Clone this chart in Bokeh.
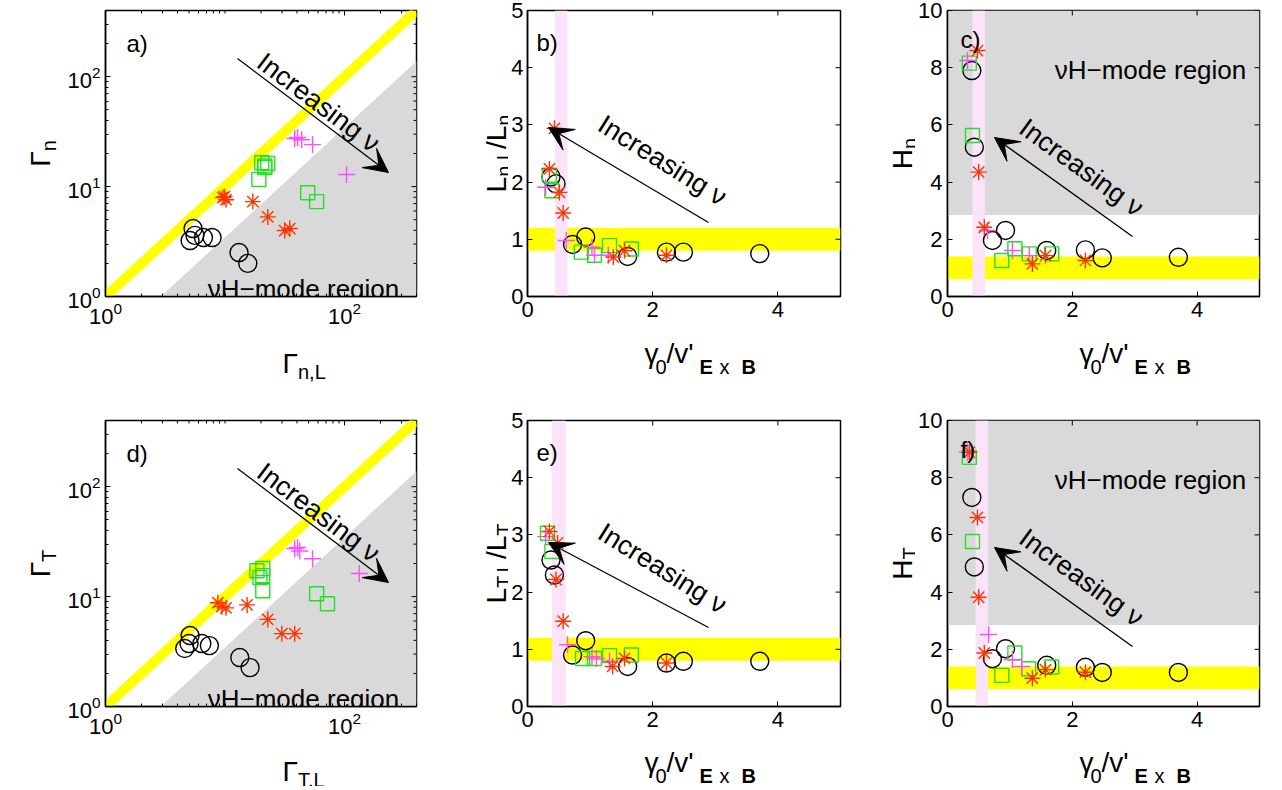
import math
from bokeh.plotting import figure
from bokeh.models import Label, Arrow, VeeHead, FixedTicker, Range1d
from bokeh.layouts import column, row
from bokeh.embed import file_html
from bokeh.resources import INLINE

# ---------------- data ----------------
# a) Gamma_n,L (x) vs Gamma_n (y)
a_circ_x = [5.4, 5.6, 5.1, 6.6, 7.8, 13.1, 15.5]
a_circ_y = [4.15, 3.6, 3.23, 3.44, 3.44, 2.51, 2.0]
a_grn_x = [20.3, 22.8, 21.5, 21.5, 19.2, 49.2, 58.4]
a_grn_y = [16.5, 16.2, 14.9, 15.4, 11.6, 8.8, 7.3]
a_mag_x = [38.3, 40.5, 43.8, 54.0, 104.0]
a_mag_y = [27.3, 28.0, 26.7, 24.1, 12.9]
a_red_x = [9.6, 10.2, 9.9, 17.1, 22.8, 31.6, 34.8]
a_red_y = [7.94, 7.6, 8.1, 7.3, 5.3, 3.98, 4.15]

# d) Gamma_T,L (x) vs Gamma_T (y)
d_circ_x = [5.1, 4.6, 5.0, 6.4, 7.4, 13.3, 16.2]
d_circ_y = [4.42, 3.37, 3.74, 3.74, 3.58, 2.79, 2.26]
d_grn_x = [18.5, 20.7, 19.6, 20.7, 20.7, 58.4, 72.0]
d_grn_y = [17.2, 18.0, 14.9, 15.5, 11.3, 10.6, 8.6]
d_mag_x = [38.3, 40.5, 42.2, 54.0, 133.0]
d_mag_y = [27.3, 28.0, 26.0, 22.1, 16.2]
d_red_x = [8.7, 9.4, 10.2, 15.3, 22.8, 29.9, 38.3]
d_red_y = [8.8, 8.1, 7.9, 8.4, 6.2, 4.6, 4.6]

# b) gamma0/v'ExB vs L_n,L/L_n
b_circ_x = [0.375, 0.455, 0.72, 0.93, 1.60, 2.22, 2.49, 3.71]
b_circ_y = [2.09, 1.97, 0.91, 1.04, 0.70, 0.775, 0.775, 0.75]
b_grn_x = [0.35, 0.39, 0.86, 1.07, 1.31, 1.66]
b_grn_y = [2.12, 1.85, 0.775, 0.72, 0.89, 0.83]
b_mag_x = [0.29, 0.62, 1.03, 1.07, 1.29]
b_mag_y = [1.91, 0.98, 0.86, 0.72, 0.72]
b_red_x = [0.35, 0.43, 0.51, 0.57, 1.37, 1.55, 2.22]
b_red_y = [2.23, 2.94, 1.82, 1.46, 0.69, 0.80, 0.72]

# e) gamma0/v'ExB vs L_T,L/L_T
e_circ_x = [0.375, 0.43, 0.72, 0.93, 1.60, 2.22, 2.49, 3.71]
e_circ_y = [2.56, 2.30, 0.90, 1.15, 0.70, 0.76, 0.79, 0.79]
e_grn_x = [0.32, 0.39, 0.88, 1.07, 1.31, 1.66]
e_grn_y = [3.03, 2.71, 0.84, 0.84, 0.89, 0.90]
e_mag_x = [0.29, 0.64, 1.03, 1.10, 1.31]
e_mag_y = [2.97, 1.08, 0.87, 0.84, 0.79]
e_red_x = [0.35, 0.48, 0.455, 0.57, 1.36, 1.55, 2.22]
e_red_y = [3.06, 2.86, 2.22, 1.49, 0.70, 0.84, 0.76]

# c) gamma0/v'ExB vs H_n
c_circ_x = [0.39, 0.43, 0.72, 0.93, 1.59, 2.21, 2.48, 3.70]
c_circ_y = [7.9, 5.22, 1.96, 2.31, 1.61, 1.63, 1.35, 1.37]
c_grn_x = [0.35, 0.40, 0.87, 1.08, 1.31, 1.67]
c_grn_y = [8.16, 5.63, 1.26, 1.67, 1.49, 1.49]
c_mag_x = [0.32, 0.64, 1.04, 1.31]
c_mag_y = [8.25, 2.31, 1.61, 1.43]
c_red_x = [0.48, 0.50, 0.59, 1.36, 1.57, 2.21]
c_red_y = [8.6, 4.35, 2.42, 1.14, 1.43, 1.26]

# f) gamma0/v'ExB vs H_T
f_circ_x = [0.39, 0.43, 0.72, 0.93, 1.59, 2.21, 2.48, 3.70]
f_circ_y = [7.31, 4.88, 1.67, 2.02, 1.44, 1.37, 1.19, 1.19]
f_grn_x = [0.35, 0.40, 0.87, 1.08, 1.30, 1.67]
f_grn_y = [8.71, 5.77, 1.09, 1.87, 1.32, 1.38]
f_mag_x = [0.32, 0.66, 1.04, 1.19]
f_mag_y = [8.89, 2.52, 1.64, 1.40]
f_red_x = [0.35, 0.48, 0.50, 0.59, 1.36, 1.57, 2.21]
f_red_y = [8.89, 6.61, 3.82, 1.87, 0.99, 1.29, 1.20]

# axis ranges and reference regions
flux_range = [1, 400]
hmode_flux_ratio = 2.9           # grey region: Gamma < Gamma_L / ratio
gamma_range = [0, 5]
ratio_range = [0, 5]
H_range = [0, 10]
ratio_band = [0.8, 1.2]          # yellow band, panels b/e
H_band = [0.6, 1.4]              # yellow band, panels c/f
H_hmode = [2.85, 10]             # grey region, panels c/f
pink_b = [0.44, 0.64]
pink_c = [0.40, 0.60]
pink_e = [0.39, 0.61]
pink_f = [0.45, 0.65]

log_major_x = [1, 100]
log_major_y = [1, 10, 100]
lin_x_ticks = [0, 2, 4]
ratio_ticks = [0, 1, 2, 3, 4, 5]
H_ticks = [0, 2, 4, 6, 8, 10]

# ---------------- styling / layout ----------------
FONT = "Liberation Sans"
YELLOW = "#FFFF00"
GREY = "#D9D9D9"
PINK = "#FBE3FA"
RED = "#FF3300"
GREEN = "#22E022"
MAGENTA = "#FF4DFF"
TICK_PX = "22px"
MAIN = 28      # axis-label main glyph size
SUB = 20       # axis-label subscript size

ROW_Y0 = [0, 390]
ROW_H = [390, 396]
TOPB = [10, 30]
FRAME_H = 286
BOTB = [40, 30, 30]
YLAB_X0 = [0, 430, 850]
YLAB_W = [60, 78, 63]
PFIG_X0 = [60, 508, 913]
FRAME_LEFT = [105, 525, 945]
FRAME_W = [311, 313, 312]
PFIG_X1 = [430, 850, 1274]

ARIAL_W = {' ': .278, ',': .278, '/': .278, "'": .191, '0': .556, 'L': .556, 'n': .556,
           'T': .611, 'H': .722, 'v': .5, 'x': .5, 'Γ': .552, 'γ': .5, 'E': .667, 'B': .722}


def tw(s, size):
    return sum(ARIAL_W.get(ch, .556) for ch in s) * size


def mk_label(x, y, text, size, angle=0.0, align="left", baseline="alphabetic", bold=False, units="data"):
    return Label(x=x, y=y, x_units=units, y_units=units, text=text,
                 text_font=FONT, text_font_size=f"{size}px", angle=math.radians(angle),
                 text_align=align, text_baseline=baseline,
                 text_font_style="bold" if bold else "normal", text_color="black")


class TextCanvas:
    """A bare figure used as a canvas for the axis-label texts outside the frames."""
    def __init__(self, x0, y0, w, h):
        self.x0, self.y0, self.w, self.h = x0, y0, w, h
        f = figure(frame_width=w, frame_height=h, x_range=Range1d(0, w), y_range=Range1d(0, h),
                   min_border=0, x_axis_location=None, y_axis_location=None,
                   output_backend="svg", toolbar_location=None)
        f.outline_line_color = None
        f.xgrid.visible = False
        f.ygrid.visible = False
        f.background_fill_color = "white"
        f.border_fill_color = "white"
        self.fig = f

    def put(self, X, Y, text, size, angle=0.0, bold=False, align="left", baseline="alphabetic"):
        self.fig.add_layout(mk_label(X - self.x0, self.y0 + self.h - Y, text, size, angle, align, baseline, bold))

    def compose(self, X, Y, parts, angle=0.0):
        a = math.radians(angle)
        pos = 0.0
        for text, size, drop in parts:
            x = X + pos * math.cos(a) + drop * math.sin(a)
            y = Y - pos * math.sin(a) + drop * math.cos(a)
            self.put(x, y, text, size, angle)
            pos += tw(text, size)


def ftxt(p, col, rw, X, Y, text, size, angle=0.0, align="left", baseline="alphabetic"):
    fl = FRAME_LEFT[col]
    fb = ROW_Y0[rw] + TOPB[rw] + FRAME_H
    p.add_layout(mk_label(X - fl, fb - Y, text, size, angle, align, baseline, units="screen"))


def arrow(p, col, rw, X0, Y0, X1, Y1):
    fl = FRAME_LEFT[col]
    fb = ROW_Y0[rw] + TOPB[rw] + FRAME_H
    p.add_layout(Arrow(x_start=X0 - fl, y_start=fb - Y0, x_end=X1 - fl, y_end=fb - Y1,
                       start_units="screen", end_units="screen", line_color="black", line_width=1.3,
                       end=VeeHead(size=24, fill_color="black", line_color="black", line_width=1)))


def style_axis(ax, standoff):
    ax.major_tick_in = 5
    ax.major_tick_out = 0
    ax.minor_tick_in = 3
    ax.minor_tick_out = 0
    ax.major_tick_line_color = "black"
    ax.minor_tick_line_color = "black"
    ax.axis_line_color = "black"
    ax.axis_line_width = 1.5
    ax.major_label_text_font = FONT
    ax.major_label_text_color = "black"
    ax.major_label_text_font_size = TICK_PX
    ax.major_label_standoff = standoff


def panel(col, rw, log, xr, yr, xt, yt, xminor=None, yminor=None):
    fl = FRAME_LEFT[col]
    fw = FRAME_W[col]
    kw = dict(frame_width=fw, frame_height=FRAME_H,
              min_border_left=fl - PFIG_X0[col], min_border_right=PFIG_X1[col] - fl - fw,
              min_border_top=TOPB[rw], min_border_bottom=BOTB[col],
              output_backend="svg", toolbar_location=None)
    if log:
        p = figure(x_axis_type="log", y_axis_type="log", x_range=Range1d(*xr), y_range=Range1d(*yr), **kw)
    else:
        p = figure(x_range=Range1d(*xr), y_range=Range1d(*yr), **kw)
    p.xgrid.visible = False
    p.ygrid.visible = False
    p.outline_line_color = "black"
    p.outline_line_width = 1.5
    p.outline_line_alpha = 1.0
    p.background_fill_color = "white"
    p.border_fill_color = "white"
    p.xaxis.ticker = FixedTicker(ticks=xt, minor_ticks=xminor or [])
    p.yaxis.ticker = FixedTicker(ticks=yt, minor_ticks=yminor or [])
    for ax in p.xaxis:
        style_axis(ax, 5)
    for ax in p.yaxis:
        style_axis(ax, 4 if col == 1 else 5)
    return p


def box_ticks(p, xr, yr, xt, yt, xminor=None, yminor=None):
    """Inward tick marks on the top and right edges of the box (MATLAB 'box on')."""
    for ticks, ln in ((xt, 5), (xminor or [], 3)):
        if ticks:
            p.ray(x=ticks, y=[yr[1]] * len(ticks), length=ln, length_units="screen",
                  angle=-math.pi / 2, line_color="black", line_width=1)
    for ticks, ln in ((yt, 5), (yminor or [], 3)):
        if ticks:
            p.ray(x=[xr[1]] * len(ticks), y=ticks, length=ln, length_units="screen",
                  angle=math.pi, line_color="black", line_width=1)


def scatter_sets(p, cx, cy, gx, gy, mx, my, rx, ry):
    p.scatter(cx, cy, marker="circle", size=18, fill_color=None, line_color="black", line_width=1.4)
    p.scatter(gx, gy, marker="square", size=14, fill_color=None, line_color=GREEN, line_width=1.4)
    p.scatter(mx, my, marker="cross", size=17, line_color=MAGENTA, line_width=1.4)
    p.scatter(rx, ry, marker="asterisk", size=16, line_color=RED, line_width=1.4)


log_minor = [m * 10 ** k for k in range(3) for m in range(1, 10)
             if m * 10 ** k <= flux_range[1] and m * 10 ** k not in (1, 100)]
log_minor_y = [v for v in log_minor if v != 10]


def canvases(col, rw):
    ylab = TextCanvas(YLAB_X0[col], ROW_Y0[rw], YLAB_W[col], ROW_H[rw])
    top = ROW_Y0[rw] + TOPB[rw] + FRAME_H + BOTB[col]
    xlab = TextCanvas(PFIG_X0[col], top, PFIG_X1[col] - PFIG_X0[col], ROW_Y0[rw] + ROW_H[rw] - top)
    return ylab, xlab


def flux_panel(rw, cx, cy, gx, gy, mx, my, rx, ry, letter, sub):
    p = panel(0, rw, True, flux_range, flux_range, log_major_x, log_major_y, log_minor, log_minor_y)
    lo, hi = flux_range
    p.patch([lo * hmode_flux_ratio, hi, hi], [lo, hi / hmode_flux_ratio, lo], fill_color=GREY, line_color=None)
    p.line(flux_range, flux_range, line_color=YELLOW, line_width=10)
    box_ticks(p, flux_range, flux_range, log_major_x, log_major_y, log_minor, log_minor_y)
    scatter_sets(p, cx, cy, gx, gy, mx, my, rx, ry)
    off = 410 * rw
    ftxt(p, 0, rw, 126, 43 + off, letter, 24)
    ftxt(p, 0, rw, 318, 102 + off, "Increasing ν", 27, angle=-37, align="center", baseline="middle")
    arrow(p, 0, rw, 237, 58 + off, 388, 172 + off)
    ftxt(p, 0, rw, 303, 288 + off, "νH−mode region", 26, align="center")
    ylab, xlab = canvases(0, rw)
    xlab.compose(237, 363 + off - rw * 2, [("Γ", MAIN, 0), (sub + ",L", SUB, 8)])
    parts = [("Γ", MAIN, 0), (sub, SUB, 8)]
    total = sum(tw(t, s) for t, s, _ in parts)
    ylab.compose(40, 153 + off + total / 2, parts, angle=90)
    return p, ylab.fig, xlab.fig


def gamma_xlabel(xlab, col, rw):
    X = FRAME_LEFT[col] + 100
    Y = ROW_Y0[rw] + TOPB[rw] + FRAME_H + 57 - rw
    xlab.put(X, Y, "γ", MAIN)
    xlab.put(X + 11, Y + 13, "0", SUB)
    xlab.put(X + 22, Y, "/v'", MAIN)
    xlab.put(X + 55, Y + 13, "E", SUB, bold=True)
    xlab.put(X + 75, Y + 13, "x", SUB)
    xlab.put(X + 97, Y + 13, "B", SUB, bold=True)


def ratio_panel(rw, cx, cy, gx, gy, mx, my, rx, ry, pink, letter, sub):
    p = panel(1, rw, False, gamma_range, ratio_range, lin_x_ticks, ratio_ticks)
    p.quad(left=gamma_range[0], right=gamma_range[1], bottom=ratio_band[0], top=ratio_band[1],
           fill_color=YELLOW, line_color=None)
    p.quad(left=pink[0], right=pink[1], bottom=ratio_range[0], top=ratio_range[1],
           fill_color=PINK, line_color=None)
    box_ticks(p, gamma_range, ratio_range, lin_x_ticks, ratio_ticks)
    scatter_sets(p, cx, cy, gx, gy, mx, my, rx, ry)
    off = 410 * rw
    ftxt(p, 1, rw, 534, 42 + off, letter, 24)
    arrow(p, 1, rw, 706, 222 + off - (rw * 5), 546, 127 + off + (rw * 5))
    ftxt(p, 1, rw, 660, 160 + off - rw * 2, "Increasing ν", 27, angle=-32, align="center", baseline="middle")
    ylab, xlab = canvases(1, rw)
    gamma_xlabel(xlab, 1, rw)
    parts = [("L", MAIN, 0), (sub + ",L", SUB, 7), ("/L", MAIN, 0), (sub, SUB, 7)]
    total = sum(tw(t, s) for t, s, _ in parts)
    ylab.compose(496, 153 + off + total / 2, parts, angle=90)
    return p, ylab.fig, xlab.fig


def H_panel(rw, cx, cy, gx, gy, mx, my, rx, ry, pink, letter, sub):
    p = panel(2, rw, False, gamma_range, H_range, lin_x_ticks, H_ticks)
    p.quad(left=gamma_range[0], right=gamma_range[1], bottom=H_hmode[0], top=H_hmode[1],
           fill_color=GREY, line_color=None)
    p.quad(left=gamma_range[0], right=gamma_range[1], bottom=H_band[0], top=H_band[1],
           fill_color=YELLOW, line_color=None)
    p.quad(left=pink[0], right=pink[1], bottom=H_range[0], top=H_range[1],
           fill_color=PINK, line_color=None)
    box_ticks(p, gamma_range, H_range, lin_x_ticks, H_ticks)
    scatter_sets(p, cx, cy, gx, gy, mx, my, rx, ry)
    off = 410 * rw
    ftxt(p, 2, rw, 958, 39 + off, letter, 24)
    ftxt(p, 2, rw, 1148, 69 + off, "νH−mode region", 26, align="center")
    arrow(p, 2, rw, 1130, 236 + off, 992, 137 + off)
    ftxt(p, 2, rw, 1079, 167 + off, "Increasing ν", 27, angle=-36, align="center", baseline="middle")
    ylab, xlab = canvases(2, rw)
    gamma_xlabel(xlab, 2, rw)
    parts = [("H", MAIN, 0), (sub, SUB, 7)]
    total = sum(tw(t, s) for t, s, _ in parts)
    ylab.compose(900, 153 + off + total / 2, parts, angle=90)
    return p, ylab.fig, xlab.fig


pa, ya, xa = flux_panel(0, a_circ_x, a_circ_y, a_grn_x, a_grn_y, a_mag_x, a_mag_y, a_red_x, a_red_y, "a)", "n")
pd, yd, xd = flux_panel(1, d_circ_x, d_circ_y, d_grn_x, d_grn_y, d_mag_x, d_mag_y, d_red_x, d_red_y, "d)", "T")
pb, yb, xb = ratio_panel(0, b_circ_x, b_circ_y, b_grn_x, b_grn_y, b_mag_x, b_mag_y, b_red_x, b_red_y, pink_b, "b)", "n")
pe, ye, xe = ratio_panel(1, e_circ_x, e_circ_y, e_grn_x, e_grn_y, e_mag_x, e_mag_y, e_red_x, e_red_y, pink_e, "e)", "T")
pc, yc, xc = H_panel(0, c_circ_x, c_circ_y, c_grn_x, c_grn_y, c_mag_x, c_mag_y, c_red_x, c_red_y, pink_c, "c)", "n")
pf, yf, xf = H_panel(1, f_circ_x, f_circ_y, f_grn_x, f_grn_y, f_mag_x, f_mag_y, f_red_x, f_red_y, pink_f, "f)", "T")

top_row = row(ya, column(pa, xa), yb, column(pb, xb), yc, column(pc, xc))
bottom_row = row(yd, column(pd, xd), ye, column(pe, xe), yf, column(pf, xf))
layout = column(top_row, bottom_row)
open("out.html", "w").write(file_html(layout, INLINE))
